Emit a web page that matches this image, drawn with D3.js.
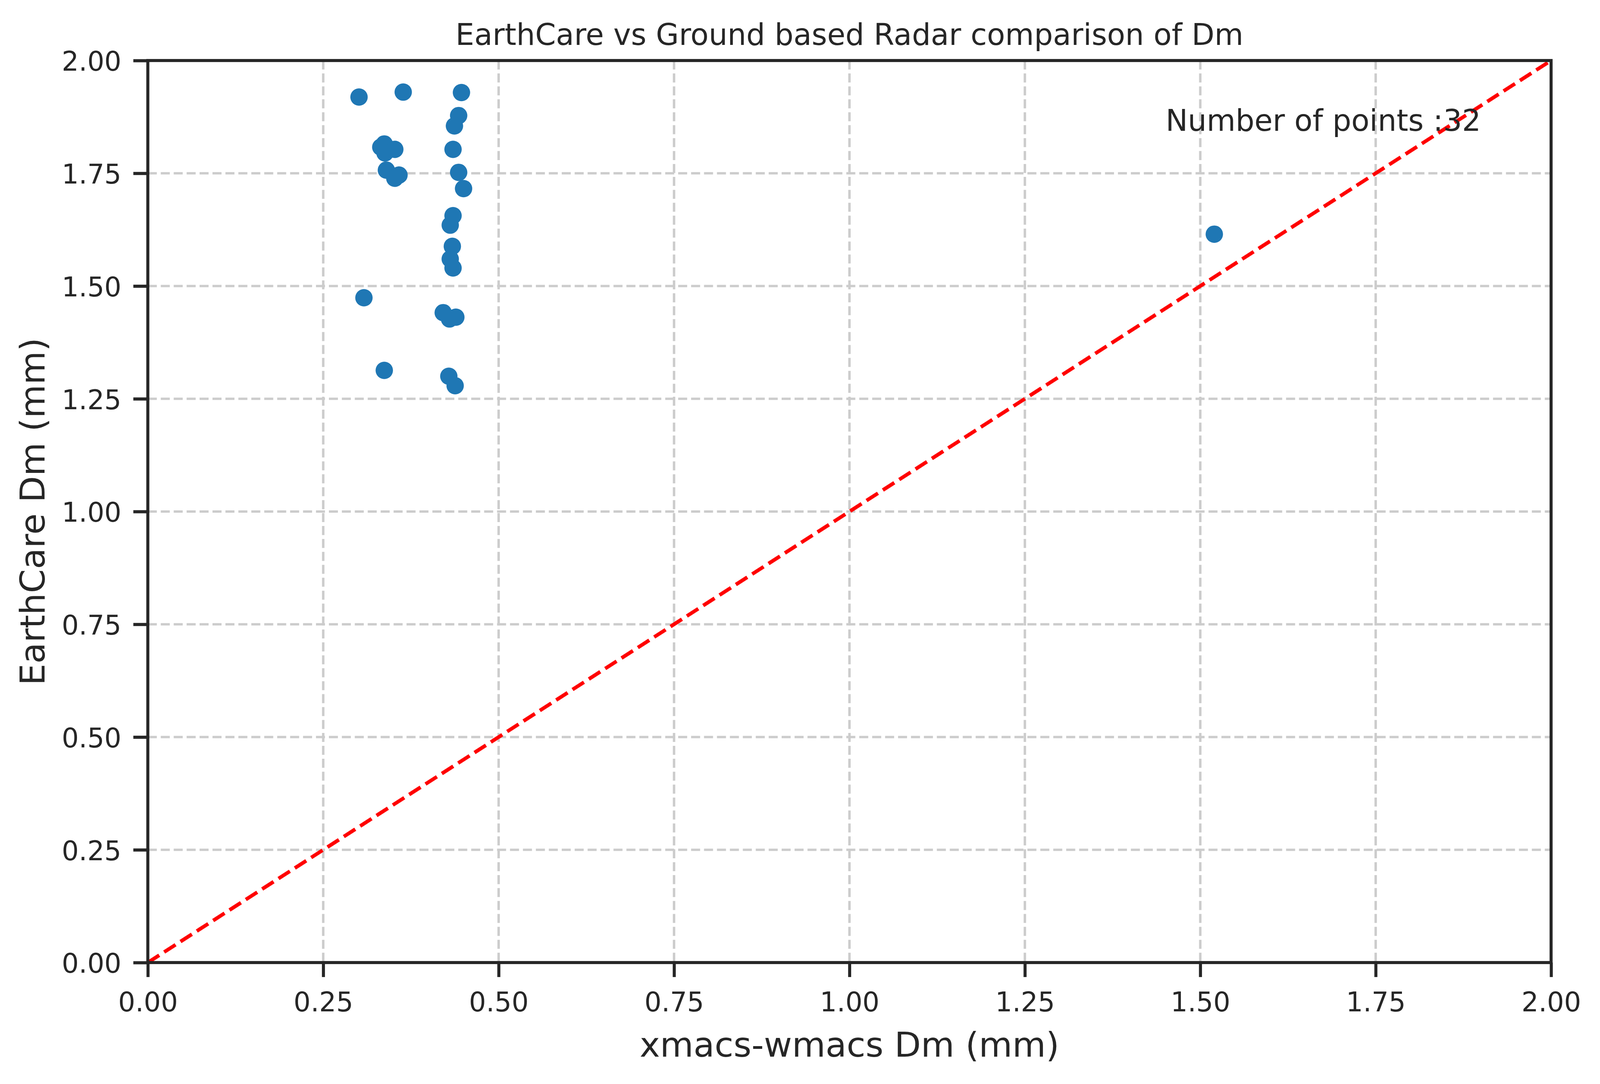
<!DOCTYPE html>
<html>
<head>
<meta charset="utf-8">
<script src="https://cdn.jsdelivr.net/npm/d3@7"></script>
<style>
  html, body { margin: 0; padding: 0; background: #ffffff; width: 100%; height: 100%; overflow: hidden; }
  svg { display: block; }
  text { font-family: "DejaVu Sans", sans-serif; fill: #262626; }
</style>
</head>
<body>
<script>
// ---- data ----
const groundDm = [
  0.301, 0.364, 0.447, 0.443, 0.437, 0.332, 0.337, 0.352, 0.338, 0.435,
  0.443, 0.450, 0.435, 0.431, 0.340, 0.358, 0.352, 0.434, 0.431, 0.435,
  0.308, 0.421, 0.430, 0.439, 0.337, 0.429, 0.438, 1.520
];
const earthcareDm = [
  1.919, 1.930, 1.929, 1.878, 1.855, 1.808, 1.815, 1.803, 1.795, 1.803,
  1.752, 1.716, 1.656, 1.635, 1.757, 1.746, 1.739, 1.588, 1.560, 1.540,
  1.474, 1.441, 1.427, 1.431, 1.313, 1.300, 1.279, 1.615
];
const tickValues = [0.00, 0.25, 0.50, 0.75, 1.00, 1.25, 1.50, 1.75, 2.00];
const oneToOne = [[0, 0], [2, 2]];
const titleText = "EarthCare vs Ground based Radar comparison of Dm";
const xLabelText = "xmacs-wmacs Dm (mm)";
const yLabelText = "EarthCare Dm (mm)";
const countText = "Number of points :32";

// ---- layout (designed on a 4416 x 2776 frame, fitted to the actual viewport) ----
const W0 = 4416, H0 = 2776;
const W = window.innerWidth || W0, H = window.innerHeight || H0;
const sx = W / W0, sy = H / H0, s = sx;
const L = 408 * sx, R = 4281 * sx, T = 155 * sy, B = 2465 * sy;
const ink = "#262626";

const svg = d3.select("body").append("svg")
  .attr("width", W).attr("height", H);

svg.append("rect").attr("width", W).attr("height", H).attr("fill", "#ffffff");

const x = d3.scaleLinear().domain([0, 2]).range([L, R]);
const y = d3.scaleLinear().domain([0, 2]).range([B, T]);

svg.append("defs").append("clipPath").attr("id", "plotclip")
  .append("rect").attr("x", L).attr("y", T).attr("width", R - L).attr("height", B - T);

// grid
const gridDash = `${24.9 * s},${10.8 * s}`;
const grid = svg.append("g").attr("class", "grid");
grid.selectAll("line.vx").data(tickValues).join("line")
  .attr("x1", d => x(d)).attr("x2", d => x(d))
  .attr("y1", T).attr("y2", B)
  .attr("stroke", "#cccccc").attr("stroke-width", 6.7 * s)
  .attr("stroke-dasharray", gridDash);
grid.selectAll("line.hy").data(tickValues).join("line")
  .attr("y1", d => y(d)).attr("y2", d => y(d))
  .attr("x1", L).attr("x2", R)
  .attr("stroke", "#cccccc").attr("stroke-width", 6.7 * s)
  .attr("stroke-dasharray", gridDash);

// scatter
const pts = groundDm.map((g, i) => ({ g, e: earthcareDm[i] }));
svg.append("g").attr("clip-path", "url(#plotclip)")
  .selectAll("circle").data(pts).join("circle")
  .attr("cx", d => x(d.g)).attr("cy", d => y(d.e))
  .attr("r", 24 * s).attr("fill", "#1f77b4");

// 1:1 line
svg.append("path").attr("clip-path", "url(#plotclip)")
  .datum(oneToOne)
  .attr("d", d3.line().x(d => x(d[0])).y(d => y(d[1])))
  .attr("fill", "none").attr("stroke", "#ff0000")
  .attr("stroke-width", 10.1 * s).attr("stroke-dasharray", `${37.4 * s},${16.2 * s}`);

// axes
const fmt = d3.format(".2f");
const tickLen = 40 * s, tickW = 8.4 * s, tickFont = 74 * s;
const xAxis = svg.append("g").attr("transform", `translate(0,${B})`)
  .call(d3.axisBottom(x).tickValues(tickValues).tickFormat(fmt).tickSize(tickLen).tickSizeOuter(0));
xAxis.select(".domain").remove();
xAxis.selectAll(".tick line").attr("stroke", ink).attr("stroke-width", tickW);
xAxis.selectAll(".tick text").attr("y", 125 * sy).attr("dy", null)
  .attr("font-size", tickFont).attr("fill", ink).style("font-family", "DejaVu Sans");

const yAxis = svg.append("g").attr("transform", `translate(${L},0)`)
  .call(d3.axisLeft(y).tickValues(tickValues).tickFormat(fmt).tickSize(tickLen).tickSizeOuter(0));
yAxis.select(".domain").remove();
yAxis.selectAll(".tick line").attr("stroke", ink).attr("stroke-width", tickW);
yAxis.selectAll(".tick text").attr("x", -73 * sx).attr("dy", null).attr("y", 28 * s)
  .attr("font-size", tickFont).attr("fill", ink).style("font-family", "DejaVu Sans");
xAxis.attr("font-family", null).attr("font-size", null);
yAxis.attr("font-family", null).attr("font-size", null);

// spines
svg.append("rect").attr("x", L).attr("y", T).attr("width", R - L).attr("height", B - T)
  .attr("fill", "none").attr("stroke", ink).attr("stroke-width", 8.4 * s)
  .attr("stroke-linejoin", "miter");

// texts
svg.append("text").attr("x", (L + R) / 2).attr("y", 115 * sy)
  .attr("text-anchor", "middle").attr("font-size", 82 * s).text(titleText);
svg.append("text").attr("x", (L + R) / 2).attr("y", 2706 * sy)
  .attr("text-anchor", "middle").attr("font-size", 95 * s).text(xLabelText);
svg.append("text").attr("transform", `translate(${123 * sx},${(T + B) / 2}) rotate(-90)`)
  .attr("text-anchor", "middle").attr("font-size", 95 * s).text(yLabelText);
svg.append("text").attr("x", L + 0.95 * (R - L)).attr("y", 335 * sy)
  .attr("text-anchor", "end").attr("font-size", 82 * s).text(countText);
</script>
</body>
</html>
